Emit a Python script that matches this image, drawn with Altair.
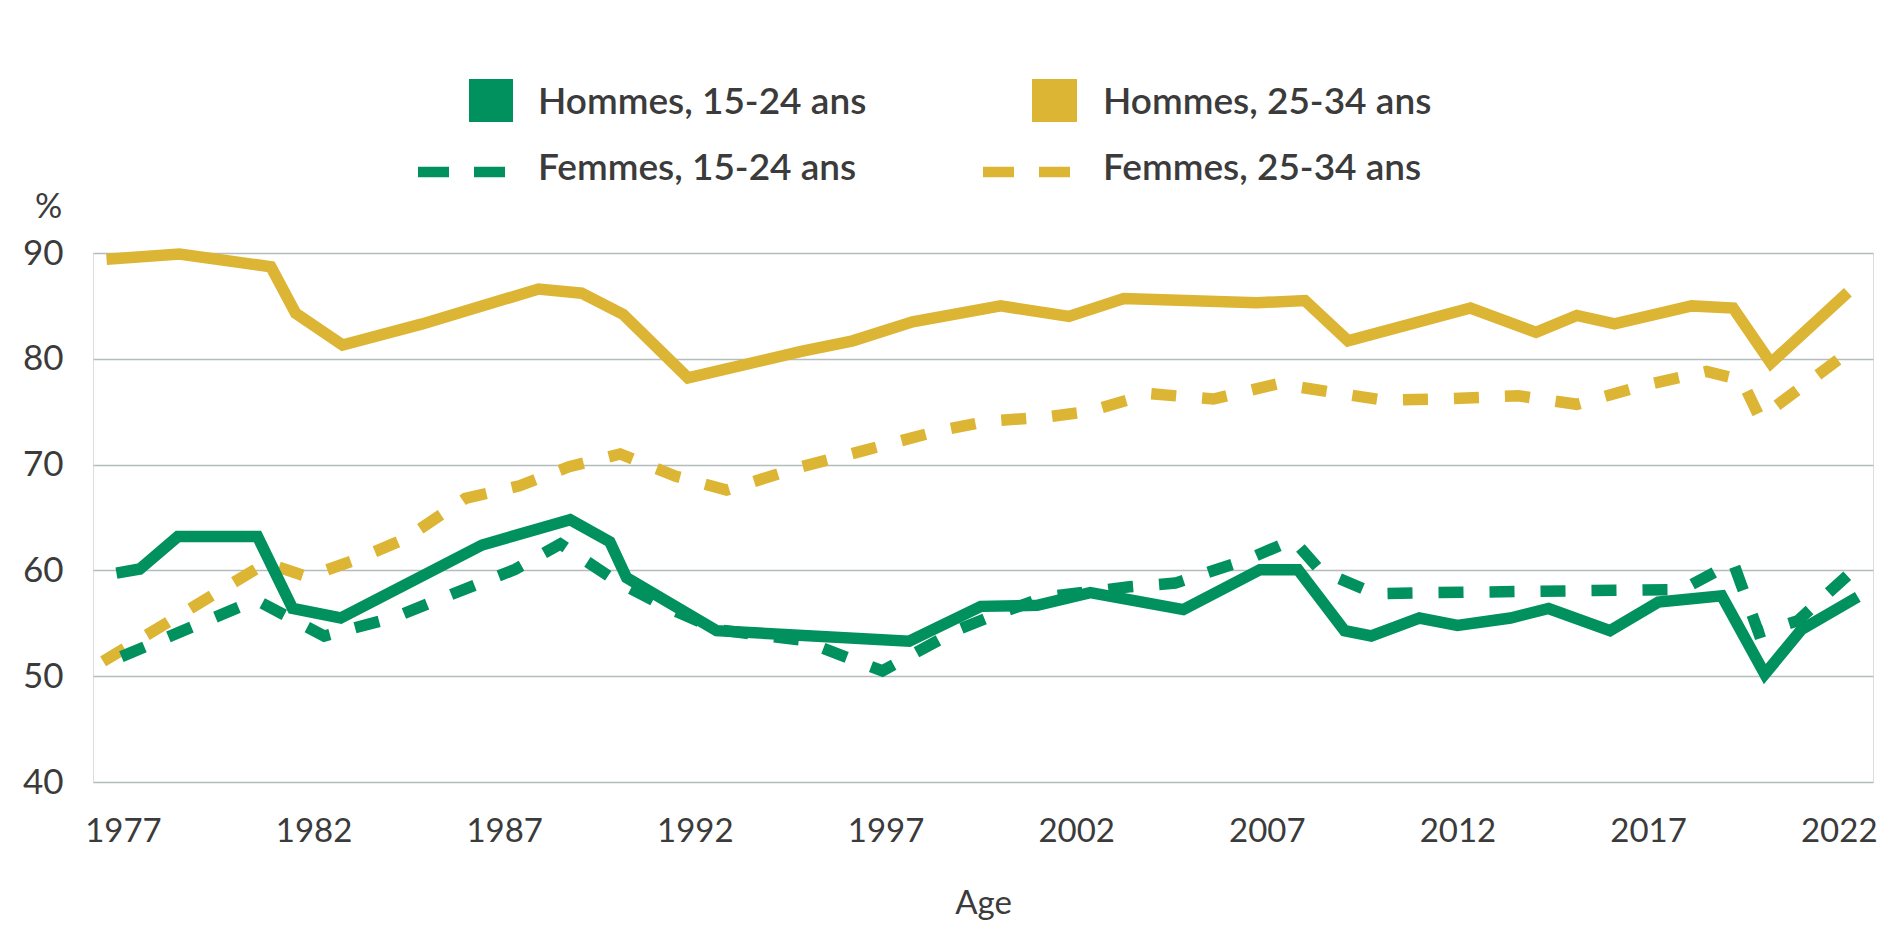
import altair as alt
import pandas as pd

# ---- data (year, employment rate %) ----
h1524_years = [1976.83, 1977.44, 1978.44, 1980.53, 1981.45, 1982.71, 1986.42, 1988.73, 1989.77,
               1990.21, 1992.57, 1997.62, 1999.5, 2000.98, 2002.37, 2004.81, 2006.82, 2007.82,
               2009.04, 2009.74, 2011.0, 2012.0, 2013.39, 2014.39, 2016.0, 2017.27, 2018.93,
               2020.06, 2021.02, 2022.5]
h1524_vals = [59.75, 60.13, 63.2, 63.2, 56.4, 55.5, 62.4, 64.8, 62.7,
              59.3, 54.3, 53.3, 56.6, 56.7, 57.9, 56.3, 60.06, 60.06,
              54.3, 53.8, 55.5, 54.8, 55.5, 56.4, 54.3, 57.0, 57.6,
              50.2, 54.4, 57.5]

h2534_years = [1976.57, 1978.48, 1980.88, 1981.53, 1982.76, 1984.85, 1987.9, 1989.03, 1990.12,
               1991.82, 1994.79, 1996.14, 1997.71, 2000.02, 2001.81, 2003.25, 2006.73, 2008.0,
               2009.13, 2012.34, 2014.06, 2015.13, 2016.12, 2018.14, 2019.23, 2020.22, 2022.24]
h2534_vals = [89.4, 89.9, 88.7, 84.3, 81.3, 83.3, 86.6, 86.2, 84.2,
              78.2, 80.7, 81.7, 83.5, 85.0, 84.0, 85.7, 85.3, 85.5,
              81.7, 84.8, 82.5, 84.1, 83.3, 85.0, 84.8, 79.6, 86.3]

f1524_years = [1976.96, 1980.49, 1982.28, 1984.15, 1985.24, 1987.29, 1988.47, 1990.0, 1991.39,
               1992.6, 1994.8, 1996.92, 1998.9, 1999.8, 2001.2, 2003.4, 2004.6, 2006.47,
               2007.69, 2008.4, 2009.83, 2011.4, 2017.9, 2019.23, 2019.9, 2020.93, 2022.5]
f1524_vals = [51.85, 57.2, 53.8, 55.6, 57.2, 60.1, 62.5, 58.85, 56.3,
              54.4, 53.4, 50.5, 54.4, 55.7, 57.5, 58.45, 58.8, 61.0,
              62.9, 60.0, 57.8, 57.9, 58.2, 60.75, 54.1, 55.25, 60.4]

f2534_years = [1976.48, 1980.75, 1981.84, 1983.1, 1984.41, 1985.98, 1987.4, 1988.7, 1990.04,
               1991.5, 1992.83, 1994.8, 1996.4, 1998.4, 1999.67, 2001.2, 2002.3, 2003.94,
               2005.6, 2007.3, 2008.6, 2010.05, 2011.5, 2013.6, 2015.13, 2016.9, 2018.53,
               2019.45, 2019.93, 2022.24]
f2534_vals = [51.4, 60.7, 59.4, 61.0, 63.0, 66.8, 68.0, 69.8, 71.0,
              68.9, 67.6, 69.8, 71.3, 73.2, 74.1, 74.5, 75.0, 76.7,
              76.2, 77.65, 76.9, 76.1, 76.2, 76.5, 75.7, 77.5, 78.8,
              78.0, 74.4, 80.6]

x_ticks = [1977, 1982, 1987, 1992, 1997, 2002, 2007, 2012, 2017, 2022]
y_ticks = [40, 50, 60, 70, 80, 90]
series_names = ["Hommes, 15-24 ans", "Hommes, 25-34 ans", "Femmes, 15-24 ans", "Femmes, 25-34 ans"]

# ---- styles ----
GREEN = "#00915f"
GOLD = "#dcb535"
TEXT = "#3b3b3b"
GRID = "#b3bdbd"
FONT = "Lato"
LW = 11.5
DASH = [25, 26]

xaxis = alt.Axis(values=x_ticks, format="d", labelFontSize=33, labelColor=TEXT, labelPadding=33,
                 labelFlush=False, labelOverlap=False, ticks=False, domain=False, grid=False,
                 title="Age", titleFontSize=33, titleFontWeight="normal", titleColor=TEXT,
                 titleY=105, titleBaseline="top")
yaxis = alt.Axis(values=y_ticks, labelFontSize=35, labelColor=TEXT, labelPadding=30,
                 ticks=False, domain=False, grid=True, gridColor=GRID, gridWidth=1.5,
                 title="%", titleAngle=0, titleX=-45, titleY=-46, titleAlign="center",
                 titleBaseline="middle", titleFontSize=34, titleFontWeight="normal", titleColor=TEXT)

xenc = alt.X("annee:Q", scale=alt.Scale(domain=[1976.215, 2022.898], nice=False, zero=False), axis=xaxis)
yenc = alt.Y("taux:Q", scale=alt.Scale(domain=[40, 90], nice=False, zero=False), axis=yaxis)


def series_layer(years, vals, color, dash=None):
    df = pd.DataFrame({"annee": years, "taux": vals})
    kw = dict(color=color, strokeWidth=LW, strokeCap="butt", strokeJoin="miter", strokeMiterLimit=10)
    if dash:
        kw["strokeDash"] = dash
    return alt.Chart(df).mark_line(**kw).encode(x=xenc, y=yenc)


lines = [
    series_layer(f2534_years, f2534_vals, GOLD, DASH),
    series_layer(f1524_years, f1524_vals, GREEN, DASH),
    series_layer(h2534_years, h2534_vals, GOLD),
    series_layer(h1524_years, h1524_vals, GREEN),
]

# ---- custom legend (2 x 2) above the plot ----
def legend_text(label, x, y):
    return alt.Chart(pd.DataFrame({"label": [label]})).mark_text(
        align="left", baseline="middle", fontSize=37, fontWeight=600, color=TEXT, font=FONT
    ).encode(x=alt.value(x), y=alt.value(y), text="label:N")


def legend_square(color, x, x2, y, y2):
    return alt.Chart(pd.DataFrame({"k": [0]})).mark_rect(color=color).encode(
        x=alt.value(x), x2=alt.value(x2), y=alt.value(y), y2=alt.value(y2))


def legend_dash(color, x, x2, y):
    return alt.Chart(pd.DataFrame({"k": [0]})).mark_rule(
        color=color, strokeWidth=10.5, strokeDash=[31, 25], strokeCap="butt"
    ).encode(x=alt.value(x), x2=alt.value(x2), y=alt.value(y))


legend = [
    legend_square(GREEN, 376, 420, -174, -131),
    legend_text(series_names[0], 445, -150),
    legend_square(GOLD, 939, 984, -174, -131),
    legend_text(series_names[1], 1010, -150),
    legend_dash(GREEN, 325, 413, -81),
    legend_text(series_names[2], 445, -84),
    legend_dash(GOLD, 890, 979, -81),
    legend_text(series_names[3], 1010, -84),
]

chart = alt.layer(*lines, *legend).properties(
    width=1780, height=529,
    autosize=alt.AutoSizeParams(type="none"),
    padding={"left": 85, "top": 245, "right": 5, "bottom": 140},
).configure_view(stroke=None).configure(font=FONT)

chart.save("out.html", embed_options={"renderer": "svg", "actions": False})
